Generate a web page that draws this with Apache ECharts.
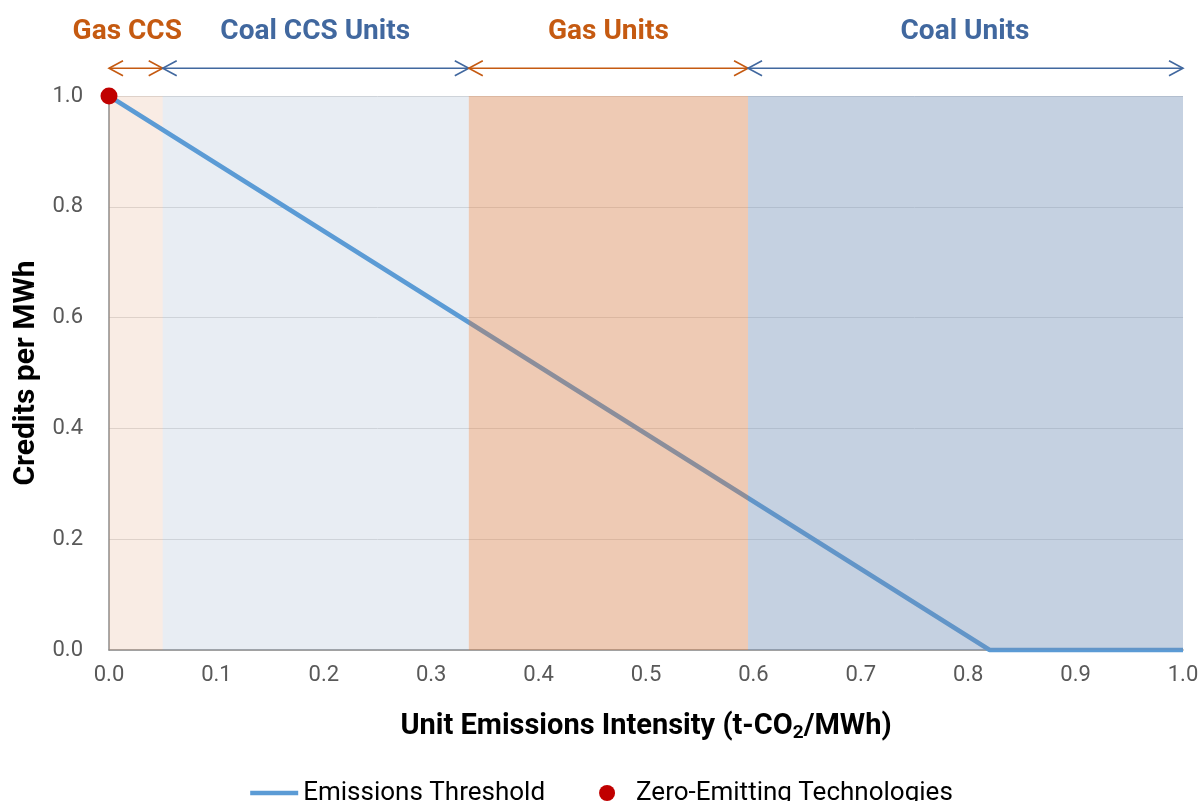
<!DOCTYPE html>
<html>
<head>
<meta charset="utf-8">
<script src="https://cdn.jsdelivr.net/npm/echarts@6/dist/echarts.min.js"></script>
<style>html,body{margin:0;padding:0;background:#fff}#c{width:1203px;height:801px}</style>
</head>
<body>
<div id="c"></div>
<script>
// Data
var lineX = [0, 0.82, 1.0];
var lineY = [1.0, 0.0, 0.0];
var zeroX = [0];
var zeroY = [1.0];
var regionStart = [0, 0.05, 0.335, 0.595];
var regionEnd = [0.05, 0.335, 0.595, 1.0];
var regionLabels = ['Gas CCS', 'Coal CCS Units', 'Gas Units', 'Coal Units'];
var regionLabelX = [0.017, 0.192, 0.465, 0.797];

// Styles
var regionFills = ['#D47A43', '#6E8CB4', '#D47A43', '#6E8CB4'];
var regionOpacity = [0.14, 0.155, 0.4, 0.4];
var regionOverLine = [false, false, true, true];
var regionInk = ['#C55A11', '#41689F', '#C55A11', '#41689F'];
var arrowLevel = 1.05;
var labelLevel = 1.116;

var lineData = lineX.map(function (x, i) { return [x, lineY[i]]; });
var zeroData = zeroX.map(function (x, i) { return [x, zeroY[i]]; });
var regionData = regionStart.map(function (s, i) { return [s, regionEnd[i]]; });

function regionRenderer(over) {
  return function (params, api) {
    var i = params.dataIndex;
    if (regionOverLine[i] !== over) return null;
    var s = api.coord([api.value(0), 1]);
    var e = api.coord([api.value(1), 0]);
    return {
      type: 'rect',
      shape: { x: s[0], y: s[1], width: e[0] - s[0], height: e[1] - s[1] },
      style: { fill: regionFills[i], opacity: regionOpacity[i] }
    };
  };
}

var chart = echarts.init(document.getElementById('c'));
chart.setOption({
  animation: false,
  textStyle: { fontFamily: 'Roboto' },
  grid: { left: 109, right: 20, top: 96, bottom: 151, containLabel: false },
  legend: {
    left: 'center', top: 775,
    itemWidth: 48, itemHeight: 16, itemGap: 54,
    symbolKeepAspect: true,
    textStyle: { fontSize: 26, color: '#000', fontFamily: 'Roboto' },
    data: [
      { name: 'Emissions Threshold', icon: 'path://M0,0 L48,0 L48,4.5 L0,4.5 Z' },
      { name: 'Zero-Emitting Technologies', icon: 'circle' }
    ]
  },
  xAxis: {
    type: 'value', min: 0, max: 1, interval: 0.1,
    name: 'Unit Emissions Intensity (t-CO{sub|2}/MWh)',
    nameLocation: 'middle', nameGap: 60,
    nameTextStyle: {
      fontSize: 29, fontWeight: 'bold', color: '#000', fontFamily: 'Roboto',
      rich: { sub: { fontSize: 19, fontWeight: 'bold', color: '#000', verticalAlign: 'bottom', padding: [14, 0, 0, 0] } }
    },
    axisLine: { show: true, lineStyle: { color: '#8C8C8C', width: 1.5 } },
    axisTick: { show: false },
    splitLine: { show: false },
    axisLabel: { fontSize: 22, color: '#595959', margin: 14, formatter: function (v) { return v.toFixed(1); } }
  },
  yAxis: {
    type: 'value', min: 0, max: 1, interval: 0.2,
    name: 'Credits per MWh',
    nameLocation: 'middle', nameGap: 66,
    nameTextStyle: { fontSize: 30, fontWeight: 'bold', color: '#000', fontFamily: 'Roboto' },
    axisLine: { show: true, lineStyle: { color: '#8C8C8C', width: 1.5 } },
    axisTick: { show: false },
    splitLine: { show: true, lineStyle: { color: '#E0E0E0', width: 1 } },
    axisLabel: { fontSize: 22, color: '#595959', margin: 26, formatter: function (v) { return v.toFixed(1); } }
  },
  series: [
    {
      name: 'regionsUnder', type: 'custom', z: 1, silent: true,
      data: regionData, encode: { x: [0, 1] },
      renderItem: regionRenderer(false)
    },
    {
      name: 'Emissions Threshold', type: 'line', data: lineData,
      symbol: 'none', clip: false, z: 2,
      lineStyle: { color: '#5B9BD5', width: 4.5 },
      itemStyle: { color: '#5B9BD5' }
    },
    {
      name: 'regionsOver', type: 'custom', z: 3, silent: true,
      data: regionData, encode: { x: [0, 1] },
      renderItem: regionRenderer(true)
    },
    {
      name: 'arrows', type: 'custom', z: 4, silent: true, clip: false,
      data: regionData, encode: { x: [0, 1] },
      renderItem: function (params, api) {
        var i = params.dataIndex;
        var a = api.coord([api.value(0), arrowLevel]);
        var b = api.coord([api.value(1), arrowLevel]);
        var t = api.coord([regionLabelX[i], labelLevel]);
        var col = regionInk[i];
        var y = a[1];
        var st = { stroke: col, lineWidth: 1.6, fill: 'none' };
        return {
          type: 'group',
          children: [
            { type: 'line', shape: { x1: a[0], y1: y, x2: b[0], y2: y }, style: st },
            { type: 'polyline', shape: { points: [[a[0] + 14, y - 7.5], [a[0], y], [a[0] + 14, y + 7.5]] }, style: st },
            { type: 'polyline', shape: { points: [[b[0] - 14, y - 7.5], [b[0], y], [b[0] - 14, y + 7.5]] }, style: st },
            { type: 'text', x: t[0], y: t[1],
              style: { text: regionLabels[i], fill: col, font: 'bold 28px Roboto', align: 'center', verticalAlign: 'middle' } }
          ]
        };
      }
    },
    {
      name: 'Zero-Emitting Technologies', type: 'scatter', data: zeroData,
      symbol: 'circle', symbolSize: 17, clip: false, z: 5,
      itemStyle: { color: '#C00000', opacity: 1 }
    }
  ]
});
</script>
</body>
</html>
